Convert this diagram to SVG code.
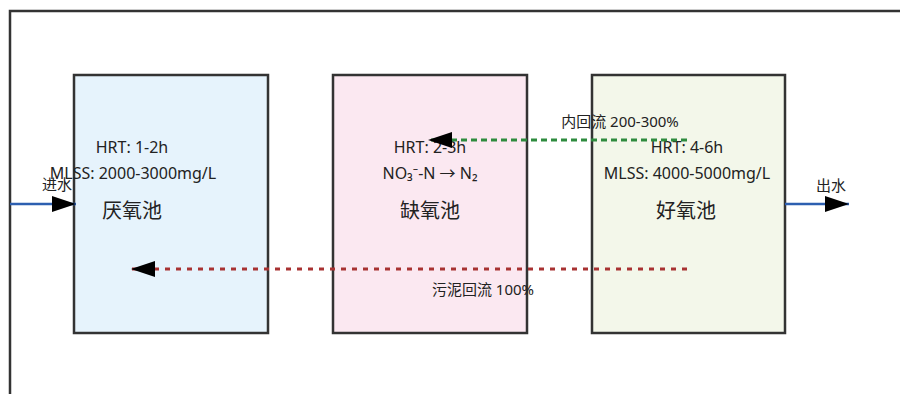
<svg xmlns="http://www.w3.org/2000/svg" width="900" height="394" viewBox="0 0 900 394">
<defs>
<style>
.tank{stroke:#333;stroke-width:2.5}
.t{font-family:"Noto Sans","Noto Sans CJK SC",sans-serif;font-size:16px;fill:#222;text-anchor:middle}
.title{font-family:"Noto Sans CJK SC","Noto Sans",sans-serif;font-size:20px;fill:#222;text-anchor:middle}
.lbl{font-family:"Noto Sans","Noto Sans CJK SC",sans-serif;font-size:15px;fill:#222;text-anchor:middle}
.flow{stroke:#2d5fb0;stroke-width:2.5;fill:none}
.ret{stroke-width:3;fill:none}
</style>
<marker id="ah" markerUnits="userSpaceOnUse" markerWidth="24" markerHeight="16" refX="24" refY="8" orient="auto">
<path d="M0,0 L24,8 L0,16 Z" fill="#000"/>
</marker>
</defs>
<rect width="900" height="394" fill="#fff"/>
<path d="M10,394 L10,11 L900,11" fill="none" stroke="#333" stroke-width="2.5"/>
<g id="anaerobic">
<rect class="tank" x="74" y="75" width="194" height="258" fill="#e6f3fc"/>
<text class="t" x="132" y="153">HRT: 1-2h</text>
<text class="t" x="133" y="179">MLSS: 2000-3000mg/L</text>
<text class="title" x="132" y="218">厌氧池</text>
</g>
<g id="anoxic">
<rect class="tank" x="333" y="75" width="194" height="258" fill="#fbe8f1"/>
<text class="t" x="430" y="153">HRT: 2-3h</text>
<text class="t" x="430" y="179">NO₃⁻-N → N₂</text>
<text class="title" x="430" y="218">缺氧池</text>
</g>
<g id="aerobic">
<rect class="tank" x="592" y="75" width="193" height="258" fill="#f3f7ea"/>
<text class="t" x="687" y="153">HRT: 4-6h</text>
<text class="t" x="687" y="179">MLSS: 4000-5000mg/L</text>
<text class="title" x="686" y="218">好氧池</text>
</g>
<g id="connectors">
<line class="flow" x1="10" y1="204" x2="76" y2="204" marker-end="url(#ah)"/>
<text class="lbl" x="57" y="190">进水</text>
<line class="flow" x1="785" y1="204" x2="849" y2="204" marker-end="url(#ah)"/>
<text class="lbl" x="831" y="191">出水</text>
<line class="ret" stroke="#2e8b3e" stroke-dasharray="6,4" x1="687" y1="140" x2="428" y2="140" marker-end="url(#ah)"/>
<text class="lbl" x="620" y="127">内回流 200-300%</text>
<line class="ret" stroke="#a83232" stroke-dasharray="5,6" x1="687" y1="269" x2="131" y2="269" marker-end="url(#ah)"/>
<text class="lbl" x="483" y="295">污泥回流 100%</text>
</g>
</svg>
